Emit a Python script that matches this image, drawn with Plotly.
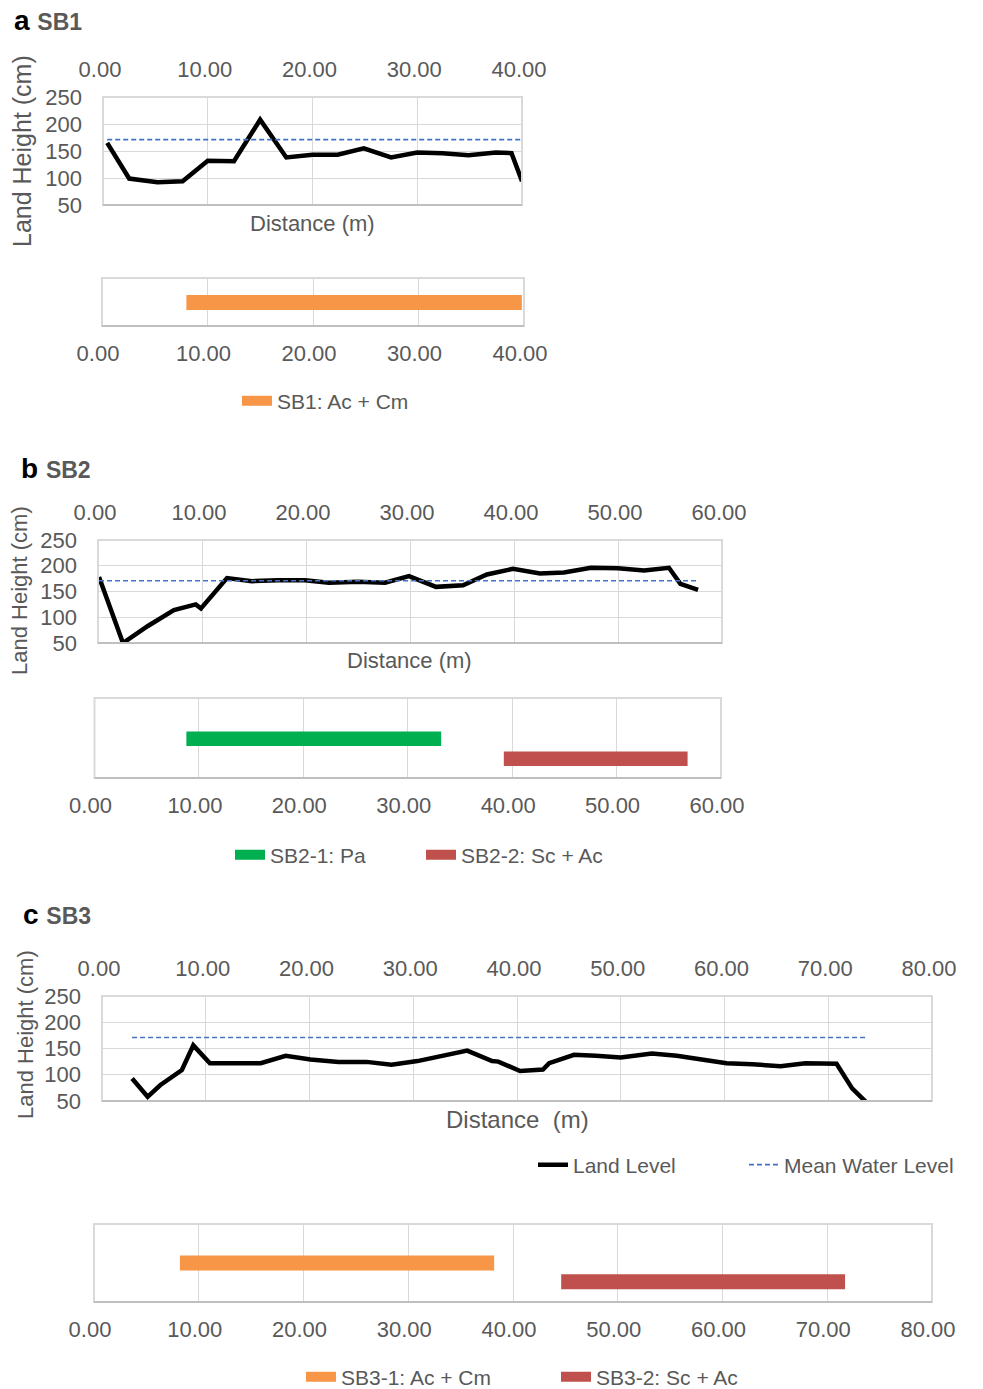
import plotly.graph_objects as go

W, H = 983, 1389

# ---- Transect SB1 ----
sb1_dist = [0.4, 2.5, 5.2, 7.6, 10.0, 12.5, 15.0, 17.5, 20.0, 22.4, 24.9, 27.5,
            30.0, 32.4, 34.9, 37.5, 39.0, 40.0]
sb1_land = [165, 99, 92, 94, 132, 131, 208, 138, 143, 143, 155, 138,
            147, 146, 142, 147, 146, 94]
sb1_mwl = 171
sb1_zone_names = ["SB1: Ac + Cm"]
sb1_zone_start = [8.0]
sb1_zone_end = [39.8]

# ---- Transect SB2 ----
sb2_dist = [0.1, 2.4, 4.8, 7.3, 9.4, 9.9, 12.4, 14.8, 17.3, 19.9, 22.2, 25.0,
            27.6, 29.9, 32.5, 35.1, 37.4, 39.9, 42.5, 44.8, 47.4, 50.0, 52.5,
            54.9, 56.0, 57.7]
sb2_land = [178, 50, 83, 114, 125, 117, 176, 170, 172, 172, 167, 169,
            167, 180, 159, 162, 183, 194, 185, 187, 196, 195, 191,
            196, 165, 153]
sb2_mwl = 171
sb2_zone_names = ["SB2-1: Pa", "SB2-2: Sc + Ac"]
sb2_zone_start = [8.8, 39.2]
sb2_zone_end = [33.2, 56.8]

# ---- Transect SB3 ----
sb3_dist = [2.9, 4.4, 5.6, 7.7, 8.8, 10.4, 15.3, 17.7, 20.1, 22.8, 25.5, 27.9,
            30.4, 32.8, 35.2, 37.6, 38.2, 40.3, 42.5, 43.1, 45.5, 47.6, 50.0,
            53.0, 55.4, 57.8, 60.2, 62.7, 65.4, 67.8, 70.8, 72.3, 73.8]
sb3_land = [93, 58, 80, 109, 156, 122, 122, 136, 129, 124.5, 124.5, 119,
            126, 136, 146, 126, 125, 107, 110, 122, 138, 136, 133,
            140.5, 136, 129, 122, 120, 116, 122, 121, 74, 45]
sb3_mwl = 171
sb3_zone_names = ["SB3-1: Ac + Cm", "SB3-2: Sc + Ac"]
sb3_zone_start = [8.2, 44.6]
sb3_zone_end = [38.2, 71.7]

ticks_dist = {1: [0, 10, 20, 30, 40], 2: [0, 10, 20, 30, 40, 50, 60],
              3: [0, 10, 20, 30, 40, 50, 60, 70, 80]}

ORANGE = "#F79646"
GREEN = "#00B050"
RED = "#C0504D"
BLUE = "#4472C4"
GREY_TXT = "#595959"
GRID = "#D9D9D9"
FONT = "Liberation Sans, Arial, sans-serif"


def fx(p):
    return p / W


def fy(p):
    return 1 - p / H


fig = go.Figure()

# ---------- profile panels (land level + mean water level) ----------
profiles = [
    (1, sb1_dist, sb1_land, sb1_mwl, False),
    (3, sb2_dist, sb2_land, sb2_mwl, False),
    (5, sb3_dist, sb3_land, sb3_mwl, True),
]
for idx, dist, land, mwl, show in profiles:
    xa = "x" if idx == 1 else f"x{idx}"
    ya = "y" if idx == 1 else f"y{idx}"
    fig.add_trace(go.Scatter(
        x=dist, y=land, mode="lines", name="Land Level",
        line=dict(color="black", width=4.5),
        xaxis=xa, yaxis=ya, showlegend=show, legend="legend3",
    ))
    fig.add_trace(go.Scatter(
        x=[dist[0], dist[-1]], y=[mwl, mwl], mode="lines",
        name="Mean Water Level",
        line=dict(color=BLUE, width=1.6, dash="5px,3px"),
        xaxis=xa, yaxis=ya, showlegend=show, legend="legend3",
    ))

# ---------- vegetation zone panels ----------
zone_panels = [
    (2, sb1_zone_names, sb1_zone_start, sb1_zone_end, [ORANGE], [0.49], 0.31, "legend"),
    (4, sb2_zone_names, sb2_zone_start, sb2_zone_end, [GREEN, RED], [0.49, 0.24], 0.18, "legend2"),
    (6, sb3_zone_names, sb3_zone_start, sb3_zone_end, [ORANGE, RED], [0.50, 0.26], 0.19, "legend4"),
]
for idx, names, starts, ends, colors, ypos, bw, leg in zone_panels:
    xa, ya = f"x{idx}", f"y{idx}"
    for name, s, e, c, yp in zip(names, starts, ends, colors, ypos):
        fig.add_trace(go.Bar(
            x=[e - s], base=[s], y=[yp], width=[bw], orientation="h",
            marker=dict(color=c, line=dict(width=0)), name=name,
            xaxis=xa, yaxis=ya, showlegend=False,
        ))
        # legend entry drawn as a thick line swatch
        fig.add_trace(go.Scatter(
            x=[None], y=[None], mode="lines", name=name,
            line=dict(color=c, width=10),
            xaxis=xa, yaxis=ya, showlegend=True, legend=leg,
        ))

tickfont = dict(family=FONT, size=22, color=GREY_TXT)

# domains in pixel coordinates: (left, right, top, bottom)
dom = {
    1: (103, 522, 97, 205),
    2: (102, 524, 278, 326),
    3: (98, 722, 540, 643),
    4: (94.5, 721, 698, 778),
    5: (102, 932, 996, 1101),
    6: (94, 932, 1224, 1302),
}
xmax_of = {1: 40, 2: 40, 3: 60, 4: 60, 5: 80, 6: 80}
tick_set = {1: 1, 2: 1, 3: 2, 4: 2, 5: 3, 6: 3}

layout_axes = {}
shapes = []
for idx, (l, r, t, b) in dom.items():
    xk = "xaxis" if idx == 1 else f"xaxis{idx}"
    yk = "yaxis" if idx == 1 else f"yaxis{idx}"
    ya = "y" if idx == 1 else f"y{idx}"
    xa = "x" if idx == 1 else f"x{idx}"
    is_profile = idx in (1, 3, 5)
    layout_axes[xk] = dict(
        domain=[fx(l), fx(r)], anchor=ya, range=[0, xmax_of[idx]],
        tickvals=ticks_dist[tick_set[idx]], tickformat=".2f",
        side="top" if is_profile else "bottom",
        showgrid=True, gridcolor=GRID, gridwidth=1, zeroline=False,
        showline=False, ticks="", tickfont=tickfont, automargin=False,
        ticklabelstandoff=15 if is_profile else 12,
        ticklabelshift=-3 if is_profile else -4,
        fixedrange=True,
    )
    if is_profile:
        layout_axes[yk] = dict(
            domain=[fy(b), fy(t)], anchor=xa, range=[50, 250],
            tickvals=[50, 100, 150, 200, 250],
            showgrid=True, gridcolor=GRID, gridwidth=1, zeroline=False,
            showline=False, ticks="", tickfont=tickfont, automargin=False,
            ticklabelstandoff=20, fixedrange=True,
        )
    else:
        layout_axes[yk] = dict(
            domain=[fy(b), fy(t)], anchor=xa, range=[0, 1],
            visible=False, fixedrange=True,
        )
    # plot-area frame
    shapes.append(dict(type="rect", xref=f"{xa} domain", yref=f"{ya} domain",
                       x0=0, x1=1, y0=0, y1=1, line=dict(color=GRID, width=2),
                       layer="above"))
    shapes.append(dict(type="line", xref=f"{xa} domain", yref=f"{ya} domain",
                       x0=0, x1=1, y0=0, y1=0, line=dict(color="#BFBFBF", width=2),
                       layer="above"))

annotations = []
# panel titles
for letter, name, x, y in [("a", "SB1", 12, 20), ("b", "SB2", 19, 469), ("c", "SB3", 21, 914)]:
    annotations.append(dict(
        text=f"<b>{letter}</b> <span style='font-size:23px;color:{GREY_TXT}'><b>{name}</b></span>",
        xref="paper", yref="paper", x=fx(x), y=fy(y), xanchor="left", yanchor="middle",
        showarrow=False, font=dict(family=FONT, size=28, color="black"),
    ))
# axis titles
for txt, x, y, size in [("Distance (m)", 312, 224, 22), ("Distance (m)", 409, 660, 22),
                        ("Distance\u00a0 (m)", 517, 1119, 24)]:
    annotations.append(dict(
        text=txt, xref="paper", yref="paper", x=fx(x), y=fy(y),
        xanchor="center", yanchor="middle", showarrow=False,
        font=dict(family=FONT, size=size, color=GREY_TXT),
    ))
for x, y, size in [(22, 151, 25), (20, 591, 22), (25, 1035, 22)]:
    annotations.append(dict(
        text="Land Height (cm)", xref="paper", yref="paper", x=fx(x), y=fy(y),
        xanchor="center", yanchor="middle", textangle=-90, showarrow=False,
        font=dict(family=FONT, size=size, color=GREY_TXT),
    ))

legfont = dict(family=FONT, size=21, color=GREY_TXT)


def leg(x, y, ew):
    return dict(orientation="h", x=fx(x), y=fy(y), xanchor="left", yanchor="middle",
                font=legfont, bgcolor="rgba(0,0,0,0)", borderwidth=0,
                entrywidth=ew, entrywidthmode="pixels", itemclick=False,
                itemdoubleclick=False, tracegroupgap=0)


fig.update_layout(
    width=W, height=H, autosize=False,
    margin=dict(l=0, r=0, t=0, b=0, pad=0, autoexpand=False),
    paper_bgcolor="white", plot_bgcolor="white",
    font=dict(family=FONT, color=GREY_TXT),
    barmode="overlay",
    shapes=shapes, annotations=annotations,
    legend=leg(237, 401, 160),
    legend2=leg(230, 855, 146),
    legend3=leg(533, 1165, 166),
    legend4=leg(301, 1377, 210),
    **layout_axes,
)

fig.write_html("out.html")
